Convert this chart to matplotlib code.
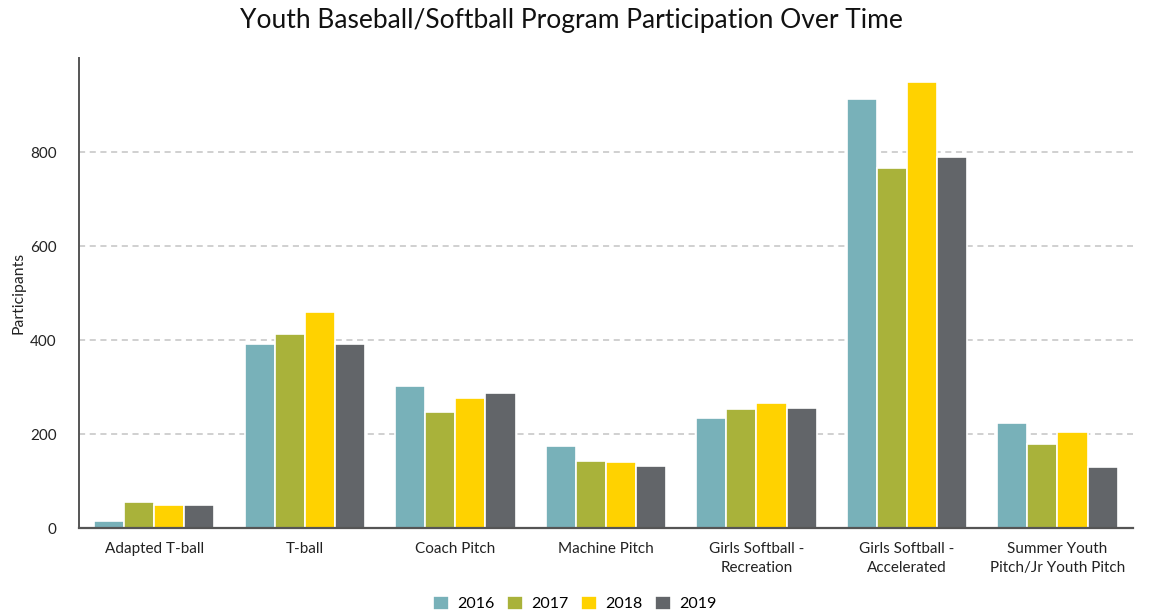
import matplotlib
matplotlib.use("Agg")
import matplotlib.pyplot as plt
import numpy as np

plt.rcParams["font.family"] = ["Lato", "DejaVu Sans"]

programs = [
    "Adapted T-ball",
    "T-ball",
    "Coach Pitch",
    "Machine Pitch",
    "Girls Softball -\nRecreation",
    "Girls Softball -\nAccelerated",
    "Summer Youth\nPitch/Jr Youth Pitch",
]
years = ["2016", "2017", "2018", "2019"]
p2016 = [16, 392, 303, 174, 235, 912, 224]
p2017 = [55, 413, 246, 143, 254, 766, 179]
p2018 = [50, 459, 277, 140, 265, 948, 205]
p2019 = [50, 392, 288, 131, 256, 790, 130]
yticks = [0, 200, 400, 600, 800]

series = [p2016, p2017, p2018, p2019]
colors = ["#78B1B9", "#A9B23A", "#FFD200", "#626569"]

fig = plt.figure(figsize=(11.5, 6.14), dpi=100, facecolor="white")
ax = fig.add_axes([0.0687, 0.140, 0.9163, 0.7655])

x = np.arange(len(programs))
w = 0.2
for i, (vals, col, yr) in enumerate(zip(series, colors, years)):
    ax.bar(x + (i - 1.5) * w, vals, width=w, color=col, edgecolor="white",
           linewidth=1.2, label=yr, zorder=3)

ax.set_xlim(-0.5, len(programs) - 0.5)
ax.set_ylim(0, 1000)
ax.set_yticks(yticks)
ax.set_yticklabels([str(t) for t in yticks], fontsize=11, color="#222222")
ax.set_xticks(x)
ax.set_xticklabels(programs, fontsize=11, color="#222222", linespacing=1.5)
ax.tick_params(axis="both", length=0)
ax.tick_params(axis="y", pad=16)
ax.tick_params(axis="x", pad=10)

for t in yticks[1:]:
    ax.axhline(t, color="#c4c4c4", linestyle=(0, (4, 3)), linewidth=1.1, zorder=1)

for side in ("top", "right"):
    ax.spines[side].set_visible(False)
for side in ("left", "bottom"):
    ax.spines[side].set_color("#555555")
    ax.spines[side].set_zorder(5)
ax.spines["left"].set_linewidth(1.4)
ax.spines["bottom"].set_linewidth(1.6)

ax.set_ylabel("Participants", fontsize=11.3, color="#222222", labelpad=3)

fig.text(0.497, 0.966, "Youth Baseball/Softball Program Participation Over Time",
         ha="center", va="center", fontsize=19, color="#111111")

fig.legend(loc="center", bbox_to_anchor=(0.5, 0.017), ncol=4, frameon=False,
           fontsize=11.5, handlelength=1.0, handleheight=1.0, columnspacing=0.8,
           handletextpad=0.5)

fig.savefig("out.png", dpi=100, facecolor="white")
